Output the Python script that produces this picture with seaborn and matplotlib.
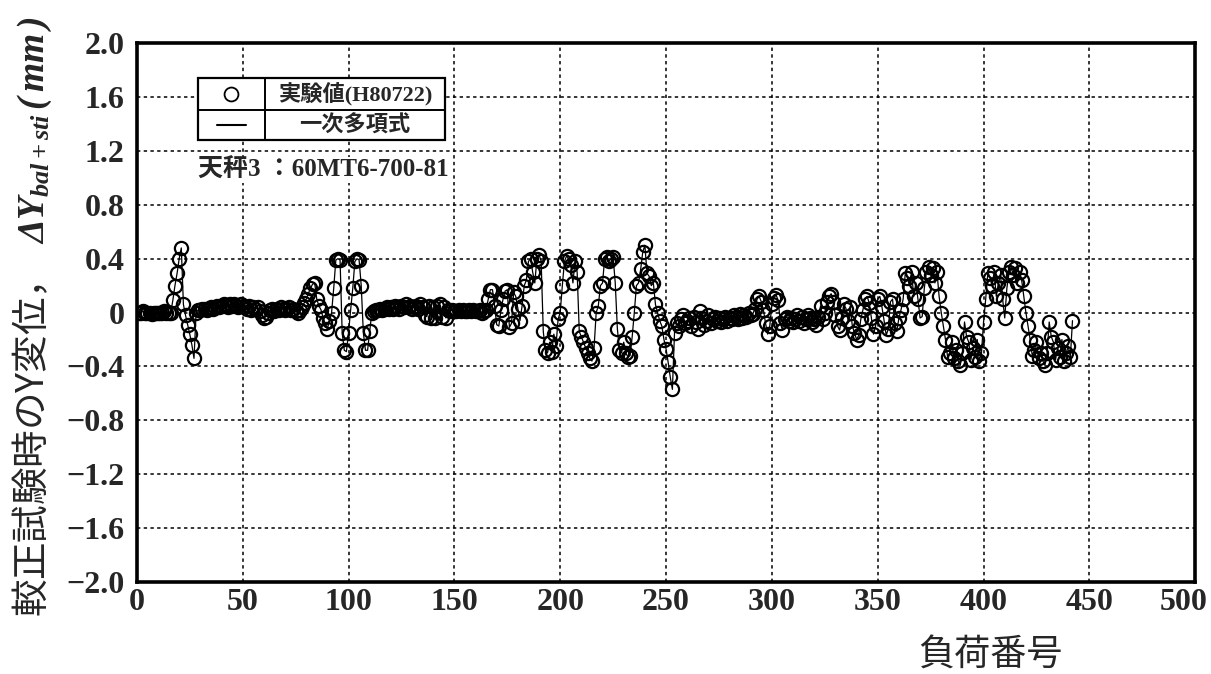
import numpy as np
import pandas as pd
import matplotlib
matplotlib.use("Agg")
import matplotlib.pyplot as plt
from matplotlib.patches import Rectangle
from matplotlib.lines import Line2D
from matplotlib.ticker import FixedLocator, FuncFormatter
from matplotlib.transforms import ScaledTranslation
import seaborn as sns

# Y displacement during balance calibration, one value per load number
delta_y = [
    0.00, 0.00, 0.01, 0.00, 0.00, 0.00, -0.01, 0.00, 0.00, 0.00,
    0.00, 0.00, 0.01, 0.00, 0.00, 0.00, 0.09, 0.20, 0.29, 0.40,
    0.48, 0.06, -0.02, -0.09, -0.16, -0.24, -0.34, 0.00, 0.02, 0.02,
    0.03, 0.03, 0.02, 0.03, 0.04, 0.03, 0.04, 0.05, 0.04, 0.05,
    0.06, 0.05, 0.04, 0.06, 0.05, 0.06, 0.05, 0.04, 0.06, 0.05,
    0.04, 0.03, 0.05, 0.02, 0.04, 0.03, 0.04, 0.01, -0.02, -0.04,
    -0.03, 0.00, 0.02, 0.03, 0.01, 0.03, 0.02, 0.04, 0.03, 0.02,
    0.03, 0.04, 0.02, 0.03, 0.01, 0.00, 0.02, 0.04, 0.07, 0.10,
    0.14, 0.18, 0.21, 0.22, 0.10, 0.05, 0.02, -0.04, -0.08, -0.12,
    -0.06, 0.00, 0.18, 0.39, 0.40, 0.39, -0.15, -0.28, -0.29, -0.15,
    0.02, 0.18, 0.38, 0.40, 0.39, 0.20, -0.15, -0.28, -0.28, -0.14,
    0.00, 0.01, 0.02, 0.02, 0.03, 0.02, 0.03, 0.04, 0.03, 0.04,
    0.03, 0.05, 0.04, 0.03, 0.05, 0.04, 0.06, 0.04, 0.05, 0.03,
    0.04, 0.05, 0.03, 0.06, 0.04, -0.02, -0.03, 0.05, -0.04, 0.04,
    -0.04, 0.05, 0.06, -0.03, 0.04, -0.04, 0.02, 0.01, 0.02, 0.01,
    0.01, 0.02, 0.01, 0.02, 0.01, 0.01, 0.02, 0.01, 0.02, 0.01,
    0.01, 0.02, 0.00, 0.01, 0.02, 0.10, 0.17, 0.17, 0.05, -0.09,
    -0.10, 0.02, 0.10, 0.16, 0.17, -0.11, -0.08, 0.15, 0.12, 0.03,
    -0.06, 0.05, 0.20, 0.24, 0.38, 0.40, 0.30, 0.22, 0.40, 0.43,
    0.38, -0.14, -0.28, -0.30, -0.22, -0.29, -0.16, -0.25, -0.05, 0.00,
    0.20, 0.38, 0.42, 0.40, 0.35, 0.22, 0.38, 0.30, -0.14, -0.18,
    -0.22, -0.26, -0.30, -0.34, -0.36, -0.26, 0.00, 0.05, 0.20, 0.22,
    0.40, 0.41, 0.38, 0.40, 0.41, 0.22, -0.12, -0.28, -0.30, -0.22,
    -0.30, -0.33, -0.32, -0.18, 0.00, 0.20, 0.22, 0.32, 0.45, 0.50,
    0.29, 0.27, 0.20, 0.22, 0.06, 0.00, -0.06, -0.10, -0.20, -0.27,
    -0.37, -0.48, -0.57, -0.15, -0.08, -0.10, -0.05, -0.02, -0.08, -0.06,
    -0.04, -0.10, -0.03, -0.07, -0.12, 0.01, -0.04, -0.09, -0.06, -0.02,
    -0.08, -0.05, -0.03, -0.06, -0.04, -0.07, -0.05, -0.03, -0.06, -0.04,
    -0.05, -0.02, -0.03, -0.05, -0.01, -0.04, -0.02, -0.03, 0.00, -0.02,
    -0.01, 0.03, 0.10, 0.12, 0.08, 0.02, -0.08, -0.16, -0.10, 0.06,
    0.11, 0.13, 0.09, -0.08, -0.13, -0.05, -0.03, -0.06, -0.04, -0.07,
    -0.05, -0.02, -0.06, -0.03, -0.08, -0.05, -0.02, -0.04, -0.07, -0.05,
    -0.09, -0.03, 0.05, -0.05, 0.00, 0.08, 0.12, 0.14, 0.08, -0.02,
    -0.10, -0.13, -0.04, 0.06, 0.03, -0.06, 0.04, -0.10, -0.15, -0.20,
    -0.17, -0.05, 0.02, 0.10, 0.12, 0.07, -0.04, -0.16, -0.10, 0.10,
    0.12, 0.04, -0.06, -0.17, -0.12, 0.08, 0.10, -0.08, -0.14, -0.04,
    0.02, 0.10, 0.29, 0.26, 0.20, 0.30, 0.12, 0.22, 0.10, -0.04,
    -0.03, 0.18, 0.30, 0.34, 0.28, 0.33, 0.22, 0.30, 0.12, 0.00,
    -0.10, -0.20, -0.33, -0.30, -0.22, -0.34, -0.28, -0.36, -0.39, -0.30,
    -0.07, -0.18, -0.22, -0.35, -0.26, -0.33, -0.20, -0.36, -0.30, -0.07,
    0.10, 0.29, 0.26, 0.20, 0.30, 0.12, 0.22, 0.28, 0.10, -0.04,
    0.18, 0.30, 0.34, 0.28, 0.33, 0.22, 0.30, 0.24, 0.12, 0.00,
    -0.10, -0.20, -0.32, -0.28, -0.22, -0.34, -0.30, -0.36, -0.39, -0.30,
    -0.07, -0.18, -0.22, -0.35, -0.26, -0.33, -0.20, -0.36, -0.30, -0.25,
    -0.33, -0.06,
]
load_no = np.arange(1, len(delta_y) + 1)

x_ticks = [0, 50, 100, 150, 200, 250, 300, 350, 400, 450, 500]
y_ticks = [-2.0, -1.6, -1.2, -0.8, -0.4, 0.0, 0.4, 0.8, 1.2, 1.6, 2.0]

legend_rows = ["実験値(H80722)", "一次多項式"]
balance_note = "天秤3 ：60MT6-700-81"
x_title = "負荷番号"
y_title = "較正試験時のY変位，  $\\Delta Y_{bal+sti}\\,(\\,mm\\,)$"

df = pd.DataFrame({"load": load_no, "dy": delta_y})

sns.set_theme(style="white")
plt.rcParams["font.family"] = ["Liberation Serif", "Noto Sans CJK JP", "DejaVu Sans"]
plt.rcParams["mathtext.fontset"] = "custom"
plt.rcParams["mathtext.it"] = "Liberation Serif:italic:bold"
plt.rcParams["mathtext.rm"] = "Liberation Serif:italic:bold"
plt.rcParams["mathtext.bf"] = "Liberation Serif:italic:bold"
plt.rcParams["axes.unicode_minus"] = True

fig = plt.figure(figsize=(12.11, 6.74), dpi=100)
ax = fig.add_axes([0.113, 0.1365, 0.874, 0.7995])

sns.lineplot(data=df, x="load", y="dy", ax=ax, sort=False, estimator=None,
             color="black", linewidth=0.9, marker="o", markersize=9.5,
             markerfacecolor="none", markeredgecolor="black",
             markeredgewidth=1.6, zorder=3)

ax.set_xlim(0, 500)
ax.set_ylim(-2.0, 2.0)
ax.xaxis.set_major_locator(FixedLocator(x_ticks))
ax.yaxis.set_major_locator(FixedLocator(y_ticks))


def fmt_y(v, pos):
    if abs(v) < 1e-9:
        return "0"
    return f"{v:.1f}".replace("-", "\u2212")


ax.yaxis.set_major_formatter(FuncFormatter(fmt_y))
ax.grid(True, color="black", linestyle=(0, (2.2, 2.2)), linewidth=1.1)
ax.tick_params(axis="both", length=0, labelsize=23)
ax.tick_params(axis="y", pad=9)
ax.tick_params(axis="x", pad=4)
for lab in ax.get_xticklabels() + ax.get_yticklabels():
    lab.set_fontweight("bold")
    lab.set_family(["Liberation Serif"])
# pull the last x label inside the figure edge
last = ax.get_xticklabels()[-1]
last.set_transform(last.get_transform() +
                   ScaledTranslation(-12 / 100, 0, fig.dpi_scale_trans))
for sp in ax.spines.values():
    sp.set_color("black")
    sp.set_linewidth(2.6)

ax.set_xlabel("")
ax.set_ylabel("")
fig.text(0.818, 0.028, x_title, fontsize=26, family=["Noto Sans CJK JP"],
         ha="center", va="center")
fig.text(0.027, 0.53, y_title, fontsize=27, rotation=90,
         family=["Noto Sans CJK JP", "DejaVu Sans"], ha="center", va="center")

# legend table in the upper left
tr = ax.transAxes
x0, xm, x1 = 0.0577, 0.121, 0.291
yt, ymid, yb = 0.935, 0.876, 0.820
ax.add_patch(Rectangle((x0, yb), x1 - x0, yt - yb, transform=tr,
                       facecolor="white", edgecolor="black", linewidth=1.6,
                       zorder=5))
ax.add_line(Line2D([x0, x1], [ymid, ymid], transform=tr, color="black",
                   linewidth=1.4, zorder=6))
ax.add_line(Line2D([xm, xm], [yb, yt], transform=tr, color="black",
                   linewidth=1.4, zorder=6))
ax.plot([(x0 + xm) / 2], [(yt + ymid) / 2], transform=tr, marker="o",
        markersize=10, markerfacecolor="none", markeredgecolor="black",
        markeredgewidth=1.3, zorder=7)
ax.add_line(Line2D([x0 + 0.018, xm - 0.018], [(ymid + yb) / 2] * 2,
                   transform=tr, color="black", linewidth=1.5, zorder=7))
ax.text((xm + x1) / 2, (yt + ymid) / 2, legend_rows[0], transform=tr,
        fontsize=16, fontweight="bold", ha="center", va="center",
        family=["Liberation Serif", "Noto Sans CJK JP"], zorder=7)
ax.text((xm + x1) / 2, (ymid + yb) / 2, legend_rows[1], transform=tr,
        fontsize=16, fontweight="bold", ha="center", va="center",
        family=["Noto Sans CJK JP"], zorder=7)
ax.text(x0, 0.764, balance_note, transform=tr, fontsize=18,
        fontweight="bold", ha="left", va="center",
        family=["Liberation Serif", "Noto Sans CJK JP"], zorder=7,
        bbox=dict(facecolor="white", edgecolor="none", pad=1))

fig.savefig("out.png", dpi=100, facecolor="white")
